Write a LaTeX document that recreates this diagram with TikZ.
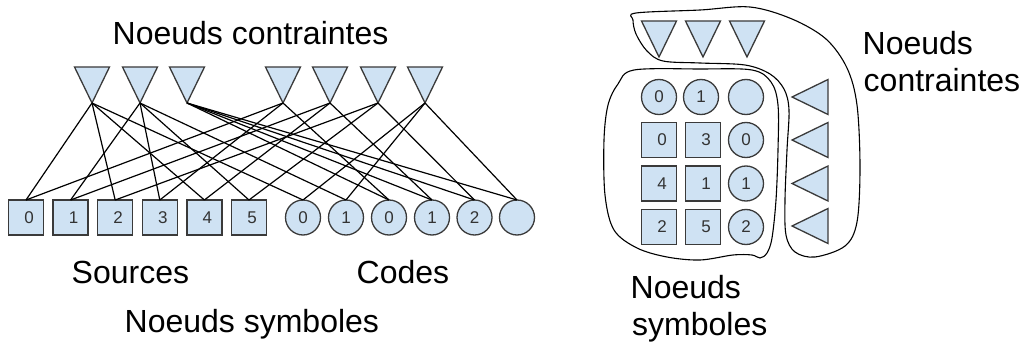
\documentclass[tikz,border=0pt]{standalone}
\usepackage{fontspec}
\setmainfont{Liberation Sans}
\usetikzlibrary{shapes.geometric}
\definecolor{nfill}{HTML}{CFE2F3}
\definecolor{nedge}{HTML}{3A3A3A}
\definecolor{dig}{HTML}{333333}
\tikzset{
  tri/.style={isosceles triangle, isosceles triangle stretches, minimum width=35pt, minimum height=36pt,
    inner sep=0pt, outer sep=0pt, draw=nedge, fill=nfill, line width=1.3pt},
  sqnode/.style={rectangle, draw=nedge, fill=nfill, line width=1.3pt, minimum size=35pt, inner sep=0pt,
    outer sep=0pt, font=\fontsize{17}{17}\selectfont, text=dig, execute at begin node={\hspace*{6pt}}},
  circnode/.style={circle, draw=nedge, fill=nfill, line width=1.3pt, minimum size=35pt, inner sep=0pt,
    outer sep=0pt, font=\fontsize{17}{17}\selectfont, text=dig},
  link/.style={line width=1.2pt, black},
  blob/.style={line width=1.1pt, black},
  lbl/.style={font=\fontsize{32}{37}\selectfont, inner sep=0pt, text=black, anchor=base west}
}
\begin{document}
\begin{tikzpicture}[x=1pt,y=-1pt]
\useasboundingbox (0,0) rectangle (1026,345);

% ---------- left graph ----------
\foreach \n/\x in {t1/92,t2/140,t3/187,r2/283,r3/330,r4/378,r1/425}
  \node[tri, shape border rotate=270, anchor=apex] (\n) at (\x,103) {};

\foreach \n/\x in {0/26,1/70.6,2/115.2,3/159.8,4/204.4,5/249}
  \node[sqnode] (s\n) at (\x,217.5) {\n};

\node[circnode] (c0a) at (303,217.5) {0};
\node[circnode] (c1a) at (346,217.5) {1};
\node[circnode] (c0b) at (389,217.5) {0};
\node[circnode] (c1b) at (432,217.5) {1};
\node[circnode] (c2)  at (474.5,217.5) {2};
\node[circnode] (ce)  at (517,217.5) {};

\foreach \a/\b in {t1/s0, t1/s2, t1/s4, t1/c0a,
                   t2/s1, t2/s3, t2/s5, t2/c1a,
                   t3/c0b, t3/c1b, t3/c2, t3/ce,
                   r2/s0, r2/s3, r2/c0b,
                   r3/s4, r3/s1, r3/c1b,
                   r4/s2, r4/s5, r4/c2,
                   r1/c0a, r1/c1a, r1/ce}
  \draw[link] (\a.apex) -- (\b.north);

\node[lbl] (title) at (112.5,45) {Noeuds contraintes};
\node[lbl] (src) at (71.5,283) {Sources};
\node[lbl] (cod) at (356.5,283) {Codes};
\node[lbl] (sym) at (124.5,332) {Noeuds symboles};

% ---------- right diagram ----------
\draw[blob] plot[smooth cycle, tension=0.55] coordinates {
  (636,13) (700,10) (750,7) (792,19) (826,39) (847,68) (857,105) (860,167)
  (857,222) (845,246) (815,257) (795,252) (786,235) (785,200) (787,150)
  (789,110) (784,89) (770,74) (745,65) (700,63) (663,61) (647,51) (636,34) (633,20)};

\draw[blob] plot[smooth cycle, tension=0.55] coordinates {
  (634,70) (700,69) (752,70) (771,82) (778,105) (778,150) (776,200) (772,238)
  (767,253) (760,258) (752,255) (733,255) (700,260) (667,257) (637,248)
  (614,230) (605,195) (604,140) (608,105) (618,84)};

\foreach \n/\x in {u1/659,u2/703,u3/747}
  \node[tri, shape border rotate=270, anchor=apex] (\n) at (\x,57) {};
\foreach \n/\y in {v1/97,v2/140,v3/183.5,v4/226}
  \node[tri, shape border rotate=180, anchor=apex] (\n) at (792,\y) {};

\node[circnode] (g11) at (659,97) {0};
\node[circnode] (g12) at (701,97) {1};
\node[circnode] (g13) at (746,97) {};
\node[sqnode]   (g21) at (659,140) {0};
\node[sqnode]   (g22) at (703,140) {3};
\node[circnode] (g23) at (746,140) {0};
\node[sqnode]   (g31) at (659,183.5) {4};
\node[sqnode]   (g32) at (703,183.5) {1};
\node[circnode] (g33) at (746,183.5) {1};
\node[sqnode]   (g41) at (659,227) {2};
\node[sqnode]   (g42) at (703,227) {5};
\node[circnode] (g43) at (746,227) {2};

\node[lbl] (rc1) at (862.5,55) {Noeuds};
\node[lbl] (rc2) at (863.5,92) {contraintes};
\node[lbl] (rs1) at (630.5,298) {Noeuds};
\node[lbl] (rs2) at (632,335) {symboles};
\end{tikzpicture}
\end{document}
